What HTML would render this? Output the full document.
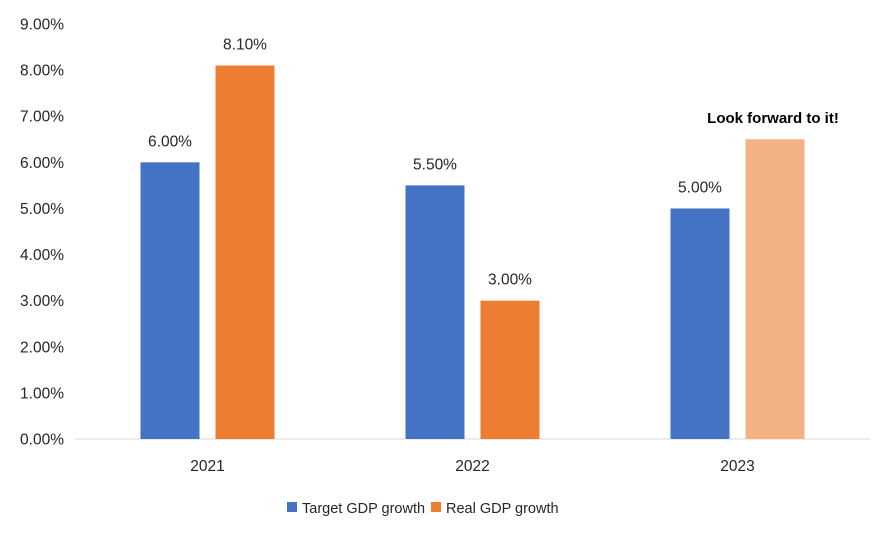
<!DOCTYPE html>
<html><head><meta charset="utf-8"><style>
html,body{margin:0;padding:0;background:#fff;}
svg text{font-family:"Liberation Sans",Arial,sans-serif;fill:#262626;}
</style></head><body>
<svg id="chart" width="891" height="538" xmlns="http://www.w3.org/2000/svg">
<g id="yaxis"></g>
<line x1="75" y1="439" x2="870" y2="439" stroke="#d9d9d9" stroke-width="1"/>
<g id="bars"></g>
<text x="773" y="123" text-anchor="middle" font-size="15" font-weight="bold" style="fill:#000">Look forward to it!</text>
<g>
<rect x="287" y="502" width="10" height="10" fill="#4472c4"/>
<text x="302" y="513" font-size="14.5">Target GDP growth</text>
<rect x="431" y="502" width="10" height="10" fill="#ed7d31"/>
<text x="446" y="513" font-size="14.5">Real GDP growth</text>
</g>
</svg>
<script>
const categories = ["2021","2022","2023"];
const targetValues = [6.00, 5.50, 5.00];
const realValues = [8.10, 3.00, 6.50];
const realLabels = ["8.10%","3.00%",""];
const yTicks = [0,1,2,3,4,5,6,7,8,9];

const NS="http://www.w3.org/2000/svg";
const y0=439, yTop=24, yMax=9;
function yScale(v){return y0-(v/yMax)*(y0-yTop);}
const plotLeft=75, catW=265;
function xCenter(i){return plotLeft+catW*(i+0.5);}
function mk(tag,attrs,parent){const e=document.createElementNS(NS,tag);for(const k in attrs)e.setAttribute(k,attrs[k]);parent.appendChild(e);return e;}
const ya=document.getElementById('yaxis');
yTicks.forEach(t=>{
  const tx=mk('text',{x:64,y:yScale(t)+5.5,'text-anchor':'end','font-size':15.5},ya);
  tx.textContent=t.toFixed(2)+'%';
  
  
});
const bars=document.getElementById('bars');
const bw=59;
categories.forEach((c,i)=>{
  const cx=xCenter(i);
  const b1=mk('rect',{x:cx-67,y:yScale(targetValues[i]),width:bw,height:y0-yScale(targetValues[i]),fill:'#4472c4'},bars);
  
  
  const l1=mk('text',{x:cx-67+bw/2,y:yScale(targetValues[i])-16,'text-anchor':'middle','font-size':15.5},bars);
  l1.textContent=targetValues[i].toFixed(2)+'%';
  
  
  const b2=mk('rect',{x:cx+8,y:yScale(realValues[i]),width:bw,height:y0-yScale(realValues[i]),fill:i===2?'#f4b183':'#ed7d31'},bars);
  
  
  if(realLabels[i]){
    const l2=mk('text',{x:cx+8+bw/2,y:yScale(realValues[i])-16,'text-anchor':'middle','font-size':15.5},bars);
    l2.textContent=realLabels[i];
    
    
  }
  const xl=mk('text',{x:cx,y:471,'text-anchor':'middle','font-size':15.5},bars);
  xl.textContent=c;
  
  
});
</script>
</body></html>
